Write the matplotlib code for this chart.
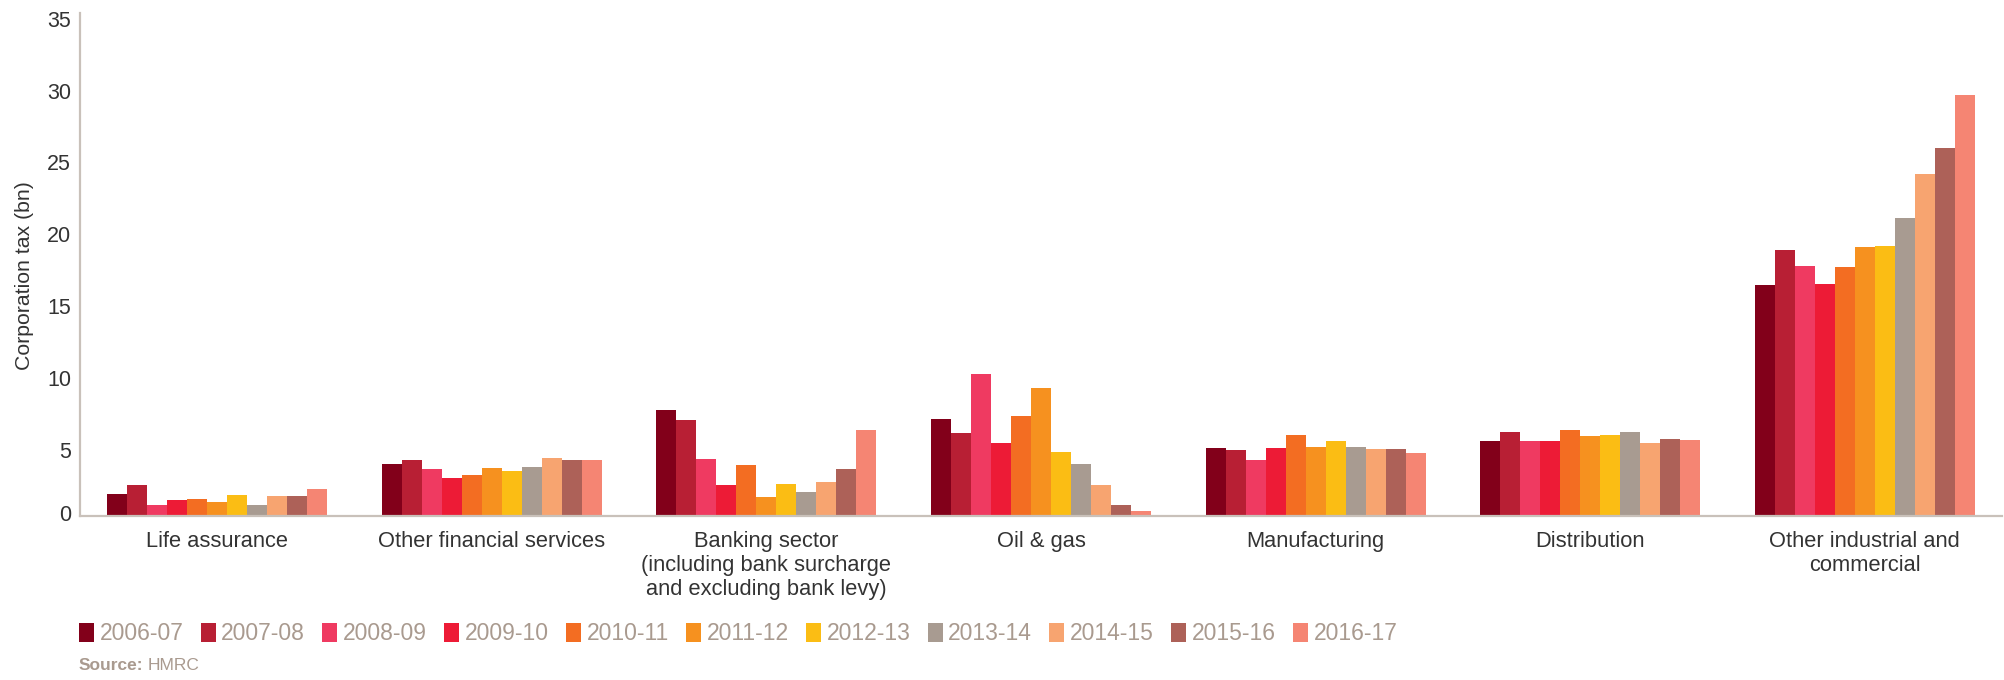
import matplotlib
matplotlib.use("Agg")
import matplotlib.pyplot as plt
import matplotlib.transforms as mtransforms
from matplotlib.patches import Patch
from matplotlib import font_manager
from matplotlib.font_manager import FontProperties
import numpy as np

# ---------------- data ----------------
categories = [
    "Life assurance",
    "Other financial services",
    "Banking sector\n(including bank surcharge\nand excluding bank levy)",
    "Oil & gas",
    "Manufacturing",
    "Distribution",
    "Other industrial and\ncommercial",
]
years = ["2006-07", "2007-08", "2008-09", "2009-10", "2010-11", "2011-12",
         "2012-13", "2013-14", "2014-15", "2015-16", "2016-17"]

life_assurance   = [1.51, 2.13, 0.74, 1.09, 1.16, 0.95, 1.44, 0.74, 1.37, 1.37, 1.86]
other_financial  = [3.60, 3.87, 3.25, 2.62, 2.83, 3.32, 3.11, 3.39, 4.01, 3.87, 3.87]
banking          = [7.35, 6.66, 3.94, 2.13, 3.53, 1.30, 2.20, 1.65, 2.34, 3.25, 5.96]
oil_gas          = [6.73, 5.75, 9.86, 5.06, 6.94, 8.88, 4.43, 3.60, 2.13, 0.74, 0.32]
manufacturing    = [4.71, 4.57, 3.87, 4.71, 5.61, 4.78, 5.20, 4.78, 4.64, 4.64, 4.36]
distribution     = [5.20, 5.82, 5.20, 5.20, 5.96, 5.54, 5.61, 5.82, 5.06, 5.34, 5.27]
other_industrial = [16.05, 18.49, 17.37, 16.12, 17.31, 18.70, 18.77, 20.72, 23.78, 25.59, 29.28]

yticks = [0, 5, 10, 15, 20, 25, 30, 35]
colors = ["#82001a", "#b81f34", "#ef3a61", "#ed1b36", "#f36d22", "#f6911f",
          "#fbbd14", "#a89b91", "#f7a470", "#ad6158", "#f58573"]

sector_values = [life_assurance, other_financial, banking, oil_gas,
                 manufacturing, distribution, other_industrial]

# ---------------- fonts ----------------
names = {f.name for f in font_manager.fontManager.ttflist}
main_font = "Liberation Sans" if "Liberation Sans" in names else "DejaVu Sans"
narrow_font = "Liberation Sans Narrow" if "Liberation Sans Narrow" in names else main_font
plt.rcParams["font.family"] = [main_font, "DejaVu Sans"]

W, H = 2004, 680
fig = plt.figure(figsize=(W / 100, H / 100), dpi=100)
ax = fig.add_axes([80 / W, 1 - 515.7 / H, 1922 / W, 503 / H])

n = len(years)
bw = 20 / (1922 / 7)
x = np.arange(len(categories))
for j, yr in enumerate(years):
    vals = [sv[j] for sv in sector_values]
    ax.bar(x + (j - (n - 1) / 2) * bw, vals, width=bw, color=colors[j],
           linewidth=0, label=yr)

ax.set_xlim(-0.5, len(categories) - 0.5)
ax.set_ylim(0, 35)
ax.set_yticks(yticks)
ax.set_xticks(x, categories)
ax.tick_params(axis="both", length=0, colors="#333333")
ax.tick_params(axis="y", pad=6.3, labelsize=15.5)
ax.tick_params(axis="x", pad=11, labelsize=15.75)
for lbl in ax.get_xticklabels():
    lbl.set_linespacing(1.2)

for s in ["top", "right"]:
    ax.spines[s].set_visible(False)
for s in ["left", "bottom"]:
    ax.spines[s].set_color("#c9c1ba")
    ax.spines[s].set_linewidth(1.6)

# y tick labels sit slightly below their ticks in the reference
for lbl, v in zip(ax.get_yticklabels(), yticks):
    dy = 3 / 100 if v == 0 else -6 / 100
    lbl.set_transform(lbl.get_transform() +
                      mtransforms.ScaledTranslation(0, dy, fig.dpi_scale_trans))

ax.set_ylabel("Corporation tax (bn)", fontsize=15.3, color="#333333")
ax.yaxis.set_label_coords(-0.024, 0.477)

# legend
legend_font = FontProperties(family=narrow_font, size=16.5)
handles = [Patch(facecolor=c, edgecolor="none") for c in colors]
leg = fig.legend(handles, years, ncol=n, loc="center left",
                 bbox_to_anchor=(79 / W, 1 - 634 / H), frameon=False,
                 borderpad=0, borderaxespad=0, handlelength=0.65,
                 handleheight=0.87, handletextpad=0.25, columnspacing=0.75,
                 prop=legend_font)
for t in leg.get_texts():
    t.set_color("#a99a8f")

# source
src_color = "#a99a8f"
src_size = 15.5 if narrow_font != main_font else 12.5
t1 = fig.text(79 / W, 1 - 666 / H, "Source:", fontweight="bold", color=src_color,
              fontsize=src_size, va="center", ha="left", family=narrow_font)
fig.canvas.draw()
bb = t1.get_window_extent()
fig.text((bb.x1 + 4) / W, 1 - 666 / H, "HMRC", color=src_color,
         fontsize=src_size, va="center", ha="left", family=narrow_font)

fig.savefig("out.png", dpi=100, facecolor="white")
